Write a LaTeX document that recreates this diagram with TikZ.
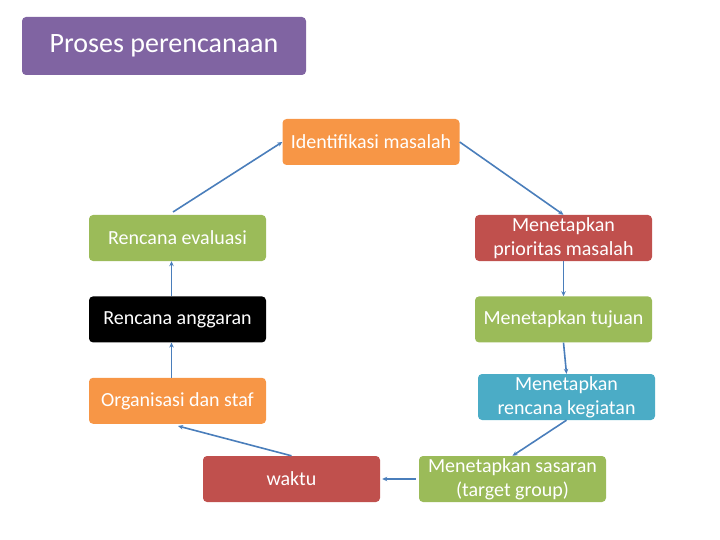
\documentclass[tikz,border=0pt]{standalone}
\usepackage{fontspec}
\setmainfont{Carlito}
\usetikzlibrary{positioning,arrows.meta}
\definecolor{planpurple}{HTML}{8064A2}
\definecolor{planorange}{HTML}{F79646}
\definecolor{plangreen}{HTML}{9BBB59}
\definecolor{planred}{HTML}{C0504D}
\definecolor{planblue}{HTML}{4BACC6}
\definecolor{planline}{HTML}{4A7EBB}
\tikzset{
  blk/.style={rectangle, rounded corners=4pt, fill=#1, draw=none,
              text=white, align=center, inner sep=1pt,
              font=\fontsize{20}{24}\selectfont,
              minimum width=177pt, minimum height=46pt},
  ar/.style={-{Stealth[length=5pt,width=4.5pt]}, line width=1.6pt, draw=planline},
}
\begin{document}
\begin{tikzpicture}[x=1pt, y=-1pt, node distance=35pt]
  \useasboundingbox (0,0) rectangle (720,540);
  \node[blk=planpurple, minimum width=284pt, minimum height=58pt,
        font=\fontsize{28}{32}\selectfont] (title) at (164,46) {Proses perencanaan};

  \node[blk=planorange] (ident) at (371,142) {Identifikasi masalah};

  % left column
  \node[blk=plangreen] (eval) at (177.5,238) {Rencana evaluasi};
  \node[blk=black, below=35pt of eval] (angg) {Rencana anggaran};
  \node[blk=planorange, below=35pt of angg] (org) {Organisasi dan staf};

  % right column
  \node[blk=planred] (prio) at (563.5,238) {Menetapkan\\prioritas masalah};
  \node[blk=plangreen, below=35pt of prio] (tuj) {Menetapkan tujuan};
  \node[blk=planblue] (keg) at (566.5,397) {Menetapkan\\rencana kegiatan};

  % bottom row
  \node[blk=planred] (wak) at (291.5,479) {waktu};
  \node[blk=plangreen, minimum width=187pt] (sas) at (512.5,479) {Menetapkan sasaran\\(target group)};

  \draw[ar] (173,212) -- (ident.west);
  \draw[ar] (ident.east) -- (prio.north);
  \draw[ar] (prio.south) -- (tuj.north);
  \draw[ar] (tuj.south) -- (keg.north);
  \draw[ar] (keg.south) -- (sas.north);
  \draw[ar] ([xshift=-3pt]sas.west) -- ([xshift=2pt]wak.east);
  \draw[ar] (wak.north) -- (178,426);
  \draw[ar] ([xshift=-6pt]org.north) -- ([xshift=-6pt]angg.south);
  \draw[ar] ([xshift=-6pt]angg.north) -- ([xshift=-6pt]eval.south);
\end{tikzpicture}
\end{document}
